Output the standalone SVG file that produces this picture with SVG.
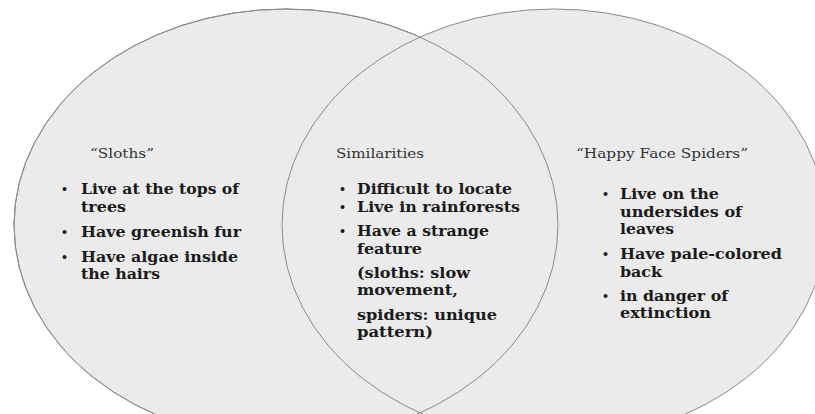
<svg xmlns="http://www.w3.org/2000/svg" width="815" height="414" viewBox="0 0 815 414">
  <style>
    .set { fill: #ebebeb; stroke: #8a8a8a; stroke-width: 1; }
    .edge { fill: none; stroke: #8a8a8a; stroke-width: 1; }
    .head { font-family: "DejaVu Serif", "Liberation Serif", serif; font-size: 13.5px; fill: #333; }
    .item { font-family: "DejaVu Serif", "Liberation Serif", serif; font-size: 14.5px; font-weight: bold; fill: #1a1a1a; }
    .dot { font-family: "DejaVu Serif", "Liberation Serif", serif; font-size: 11px; font-weight: bold; fill: #1a1a1a; }
  </style>
  <rect width="815" height="414" fill="#ffffff"/>

  <!-- Set shapes: filled first, then the left outline again so both overlap edges stay visible -->
  <g id="sets">
    <ellipse class="set" cx="286" cy="225" rx="272" ry="216"/>
    <ellipse class="set" cx="554" cy="225" rx="272" ry="216"/>
    <ellipse class="edge" cx="286" cy="225" rx="272" ry="216"/>
  </g>

  <g id="sloths">
    <text class="head" x="90" y="158" textLength="64" lengthAdjust="spacingAndGlyphs">“Sloths”</text>
    <text class="dot" x="61" y="193">•</text>
    <text class="item" x="81" y="194" textLength="158" lengthAdjust="spacingAndGlyphs">Live at the tops of</text>
    <text class="item" x="81" y="212" textLength="45" lengthAdjust="spacingAndGlyphs">trees</text>
    <text class="dot" x="61" y="236">•</text>
    <text class="item" x="81" y="237" textLength="160" lengthAdjust="spacingAndGlyphs">Have greenish fur</text>
    <text class="dot" x="61" y="261">•</text>
    <text class="item" x="81" y="262" textLength="157" lengthAdjust="spacingAndGlyphs">Have algae inside</text>
    <text class="item" x="81" y="279" textLength="79" lengthAdjust="spacingAndGlyphs">the hairs</text>
  </g>

  <g id="similarities">
    <text class="head" x="336" y="158" textLength="88" lengthAdjust="spacingAndGlyphs">Similarities</text>
    <text class="dot" x="339" y="193">•</text>
    <text class="item" x="357" y="194" textLength="155" lengthAdjust="spacingAndGlyphs">Difficult to locate</text>
    <text class="dot" x="339" y="211">•</text>
    <text class="item" x="357" y="212" textLength="163" lengthAdjust="spacingAndGlyphs">Live in rainforests</text>
    <text class="dot" x="339" y="235">•</text>
    <text class="item" x="357" y="236" textLength="132" lengthAdjust="spacingAndGlyphs">Have a strange</text>
    <text class="item" x="357" y="254" textLength="65" lengthAdjust="spacingAndGlyphs">feature</text>
    <text class="item" x="357" y="278" textLength="113" lengthAdjust="spacingAndGlyphs">(sloths: slow</text>
    <text class="item" x="357" y="295" textLength="101" lengthAdjust="spacingAndGlyphs">movement,</text>
    <text class="item" x="357" y="320" textLength="140" lengthAdjust="spacingAndGlyphs">spiders: unique</text>
    <text class="item" x="357" y="337" textLength="76" lengthAdjust="spacingAndGlyphs">pattern)</text>
  </g>

  <g id="spiders">
    <text class="head" x="576" y="158" textLength="172" lengthAdjust="spacingAndGlyphs">“Happy Face Spiders”</text>
    <text class="dot" x="602" y="198">•</text>
    <text class="item" x="620" y="199" textLength="99" lengthAdjust="spacingAndGlyphs">Live on the</text>
    <text class="item" x="620" y="217" textLength="122" lengthAdjust="spacingAndGlyphs">undersides of</text>
    <text class="item" x="620" y="234" textLength="54" lengthAdjust="spacingAndGlyphs">leaves</text>
    <text class="dot" x="602" y="258">•</text>
    <text class="item" x="620" y="259" textLength="162" lengthAdjust="spacingAndGlyphs">Have pale-colored</text>
    <text class="item" x="620" y="277" textLength="42" lengthAdjust="spacingAndGlyphs">back</text>
    <text class="dot" x="602" y="300">•</text>
    <text class="item" x="620" y="301" textLength="108" lengthAdjust="spacingAndGlyphs">in danger of</text>
    <text class="item" x="620" y="318" textLength="91" lengthAdjust="spacingAndGlyphs">extinction</text>
  </g>
</svg>
